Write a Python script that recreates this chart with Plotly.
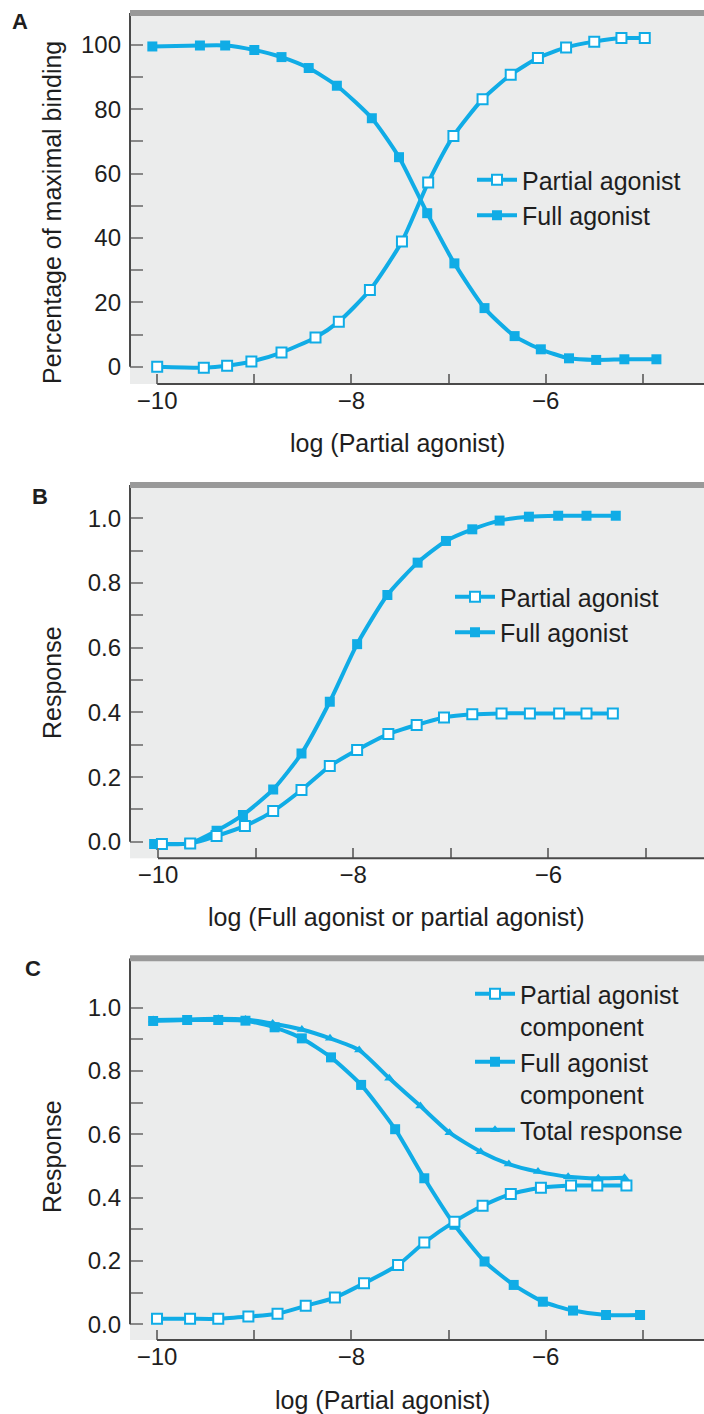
import plotly.graph_objects as go

W, H = 704, 1414
ML = 130
PW = W - ML
BLUE = "#10ACE6"
BG = "#EBECEC"
AXC = "#4a4a4a"
TXT = "#1e1e1e"
FONT = "Liberation Sans, Arial, Helvetica, sans-serif"

# ---------------- Panel A data ----------------
a_partial_x = [-10.0, -9.52, -9.28, -9.03, -8.72, -8.37, -8.13, -7.81, -7.48, -7.21,
               -6.95, -6.65, -6.36, -6.08, -5.79, -5.50, -5.22, -4.98]
a_partial_y = [0.0, -0.3, 0.3, 1.6, 4.4, 9.1, 14.0, 23.8, 38.9, 57.2,
               71.7, 83.1, 90.7, 95.9, 99.2, 101.0, 102.1, 102.1]
a_full_x = [-10.05, -9.56, -9.30, -9.00, -8.72, -8.44, -8.15, -7.79, -7.51, -7.22,
            -6.94, -6.63, -6.32, -6.05, -5.76, -5.48, -5.19, -4.86]
a_full_y = [99.5, 99.8, 99.8, 98.4, 96.2, 92.8, 87.3, 77.2, 65.1, 47.7,
            32.1, 18.2, 9.5, 5.4, 2.6, 2.1, 2.3, 2.3]

# ---------------- Panel B data ----------------
b_full_x = [-10.04, -9.68, -9.40, -9.13, -8.82, -8.53, -8.24, -7.96, -7.65, -7.34,
            -7.05, -6.78, -6.50, -6.20, -5.90, -5.61, -5.31]
b_full_y = [-0.007, -0.005, 0.034, 0.083, 0.162, 0.273, 0.433, 0.611, 0.763, 0.863,
            0.930, 0.966, 0.993, 1.005, 1.008, 1.008, 1.008]
b_partial_x = [-9.96, -9.67, -9.40, -9.11, -8.82, -8.53, -8.24, -7.96, -7.64, -7.35,
               -7.07, -6.78, -6.48, -6.19, -5.89, -5.61, -5.34]
b_partial_y = [-0.007, -0.005, 0.018, 0.049, 0.095, 0.160, 0.234, 0.284, 0.333, 0.361,
               0.384, 0.394, 0.397, 0.397, 0.397, 0.397, 0.397]

# ---------------- Panel C data ----------------
c_partial_x = [-10.0, -9.66, -9.37, -9.06, -8.76, -8.47, -8.17, -7.87, -7.52, -7.25,
               -6.94, -6.65, -6.36, -6.05, -5.74, -5.47, -5.17]
c_partial_y = [0.017, 0.017, 0.017, 0.024, 0.033, 0.058, 0.084, 0.129, 0.187, 0.258,
               0.324, 0.374, 0.411, 0.431, 0.438, 0.438, 0.438]
c_full_x = [-10.04, -9.69, -9.37, -9.09, -8.79, -8.51, -8.21, -7.90, -7.55, -7.25,
            -6.94, -6.63, -6.33, -6.03, -5.72, -5.38, -5.03]
c_full_y = [0.958, 0.961, 0.961, 0.959, 0.938, 0.903, 0.843, 0.756, 0.616, 0.461,
            0.314, 0.198, 0.124, 0.071, 0.043, 0.029, 0.029]
c_total_x = [-10.04, -9.69, -9.37, -9.09, -8.81, -8.51, -8.22, -7.92, -7.61, -7.29,
             -6.99, -6.67, -6.38, -6.08, -5.77, -5.46, -5.19]
c_total_y = [0.961, 0.963, 0.965, 0.963, 0.950, 0.931, 0.903, 0.866, 0.777, 0.689,
             0.605, 0.545, 0.506, 0.482, 0.466, 0.461, 0.463]

# tick labels
x_tickvals = [-10, -8, -6]
x_ticktext = ["\u221210", "\u22128", "\u22126"]
x_minor = [-9, -7, -5]
a_ytick = [0, 20, 40, 60, 80, 100]
a_yminor = [10, 30, 50, 70, 90]
r_ytick = [0.0, 0.2, 0.4, 0.6, 0.8, 1.0]
r_yminor = [0.1, 0.3, 0.5, 0.7, 0.9]

# layout helpers (pixel -> paper)
def px(xp):
    return (xp - ML) / PW

def py(yp):
    return 1 - yp / H

panels = [
    dict(dom=(13, 384), xr=[-10.28, -4.37], yr=[-5.38, 109.9]),
    dict(dom=(485, 858.3), xr=[-10.287, -4.406], yr=[-0.051, 1.103]),
    dict(dom=(958.3, 1340), xr=[-10.278, -4.372], yr=[-0.05, 1.156]),
]

fig = go.Figure()

line_w = 4
open_marker = dict(symbol="square", size=10, color="white", line=dict(color=BLUE, width=2))
full_marker = dict(symbol="square", size=10, color=BLUE, line=dict(color=BLUE, width=0))
tri_marker = dict(symbol="triangle-up", size=9, color=BLUE, line=dict(color=BLUE, width=0))

def add(x, y, name, marker, ax, leg, order):
    fig.add_trace(go.Scatter(
        x=x, y=y, name=name, mode="lines+markers",
        line=dict(color=BLUE, width=line_w, shape="spline", smoothing=0.6),
        marker=marker, xaxis="x" + ax, yaxis="y" + ax, legend=leg,
        legendrank=order,
    ))

# Panel A
add(a_full_x, a_full_y, "Full agonist", full_marker, "", "legend", 2)
add(a_partial_x, a_partial_y, "Partial agonist", open_marker, "", "legend", 1)
# Panel B
add(b_full_x, b_full_y, "Full agonist", full_marker, "2", "legend2", 2)
add(b_partial_x, b_partial_y, "Partial agonist", open_marker, "2", "legend2", 1)
# Panel C
add(c_total_x, c_total_y, "Total response", tri_marker, "3", "legend3", 3)
add(c_full_x, c_full_y, "Full agonist<br>component", full_marker, "3", "legend3", 2)
add(c_partial_x, c_partial_y, "Partial agonist<br>component", open_marker, "3", "legend3", 1)

tickfont = dict(family=FONT, size=24, color=TXT)
layout = dict(
    width=W, height=H,
    margin=dict(l=ML, r=0, t=0, b=0),
    paper_bgcolor="white",
    plot_bgcolor=BG,
    font=dict(family=FONT, size=25, color=TXT),
    showlegend=True,
)

shapes = []
for i, p in enumerate(panels):
    sfx = "" if i == 0 else str(i + 1)
    xa = "xaxis" + sfx
    ya = "yaxis" + sfx
    d0, d1 = p["dom"]
    layout[xa] = dict(
        domain=[0, 1], range=p["xr"], anchor="y" + sfx,
        showgrid=False, zeroline=False, showline=False,
        tickvals=x_tickvals, ticktext=x_ticktext,
        ticks="inside", ticklen=10, tickwidth=2, tickcolor="#777",
        minor=dict(tickvals=x_minor, ticks="inside", ticklen=10, tickwidth=2, tickcolor="#777"),
        tickfont=tickfont, fixedrange=True,
    )
    if i == 0:
        yt, ym, ttext = a_ytick, a_yminor, [str(v) for v in a_ytick]
    else:
        yt, ym, ttext = r_ytick, r_yminor, ["%.1f" % v for v in r_ytick]
    layout[ya] = dict(
        domain=[py(d1), py(d0)], range=p["yr"], anchor="x" + sfx,
        showgrid=False, zeroline=False, showline=False,
        tickvals=yt, ticktext=ttext,
        ticks="inside", ticklen=13, tickwidth=2, tickcolor="#888",
        minor=dict(tickvals=ym, ticks="inside", ticklen=13, tickwidth=2, tickcolor="#888"),
        tickfont=tickfont, fixedrange=True, ticklabelstandoff=8,
    )
    xref = "x" + sfx
    yref = "y" + sfx
    # y axis line (from 0 to top)
    shapes.append(dict(type="line", xref=xref + " domain", yref=yref,
                       x0=0, x1=0, y0=0, y1=p["yr"][1],
                       line=dict(color=AXC, width=2)))
    # x axis line (from -10 to right edge)
    shapes.append(dict(type="line", xref=xref, yref=yref + " domain",
                       x0=-10, x1=p["xr"][1], y0=0, y1=0,
                       line=dict(color=AXC, width=2)))
    # thick top border
    shapes.append(dict(type="line", xref=xref + " domain", yref=yref + " domain",
                       x0=0, x1=1, y0=1, y1=1,
                       line=dict(color="#999999", width=6)))

layout["shapes"] = shapes

leg_common = dict(bgcolor="rgba(0,0,0,0)", borderwidth=0, xanchor="left", yanchor="top",
                  font=dict(family=FONT, size=25, color=TXT), itemwidth=40,
                  tracegroupgap=0, valign="top", itemclick=False, itemdoubleclick=False)
layout["legend"] = dict(x=px(522 - 50), y=py(157), **leg_common)
layout["legend2"] = dict(x=px(500 - 50), y=py(574), **leg_common)
layout["legend3"] = dict(x=px(520 - 50), y=py(971), **leg_common)

annotations = []
def ann(text, xp, yp, angle=0, bold=False, size=25):
    annotations.append(dict(
        text=("<b>%s</b>" % text) if bold else text,
        xref="paper", yref="paper", x=px(xp), y=py(yp),
        xanchor="center", yanchor="middle", showarrow=False, textangle=angle,
        font=dict(family=FONT, size=size, color=TXT),
    ))

ann("log (Partial agonist)", 397, 443)
ann("log (Full agonist or partial agonist)", 396, 917)
ann("log (Partial agonist)", 382, 1400)
ann("Percentage of maximal binding", 52, 213, angle=-90)
ann("Response", 52, 683, angle=-90)
ann("Response", 52, 1157, angle=-90)
ann("A", 20, 22, bold=True, size=22)
ann("B", 40, 496, bold=True, size=22)
ann("C", 33, 968, bold=True, size=22)
layout["annotations"] = annotations

fig.update_layout(**layout)
fig.write_html(
    "out.html",
    config={"displayModeBar": False},
    post_script="document.body.style.margin='0';document.body.style.overflow='hidden';",
)
